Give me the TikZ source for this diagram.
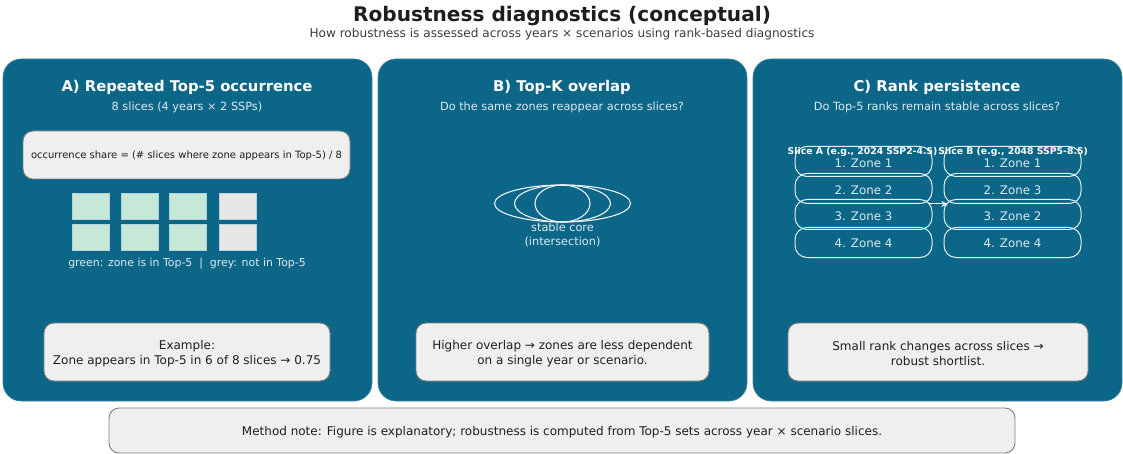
\documentclass[tikz,border=0pt]{standalone}
\usepackage{fontspec}
\setmainfont{DejaVu Sans}
\usetikzlibrary{arrows.meta,calc}

\definecolor{panel}{RGB}{12,102,136}
\definecolor{notefill}{RGB}{239,239,239}
\definecolor{noteedge}{RGB}{125,125,125}
\definecolor{ink}{RGB}{30,30,30}
\definecolor{subink}{RGB}{60,60,60}
\definecolor{paleink}{RGB}{222,234,240}
\definecolor{ingreen}{RGB}{198,232,216}
\definecolor{outgrey}{RGB}{231,231,231}

\newcommand\fsz[2]{\fontsize{#1}{#2}\selectfont}

\tikzset{
  panelbox/.style={fill=panel, draw=panel!80!white, line width=0.6pt, rounded corners=18pt,
    minimum width=369pt, minimum height=342pt, inner sep=0pt},
  notebox/.style={fill=notefill, draw=noteedge, line width=0.9pt, rounded corners=10pt,
    inner sep=0pt},
  notetext/.style={align=center, text=ink, inner sep=0pt},
  ptitle/.style={text=white, font=\fsz{14.8}{17}\bfseries},
  psub/.style={text=paleink, font=\fsz{11.3}{14}},
  cell/.style={minimum width=37pt, minimum height=26pt, inner sep=0pt, draw=white!70!panel, line width=0.4pt},
  incell/.style={cell, fill=ingreen},
  outcell/.style={cell, fill=outgrey},
  rankbox/.style={draw=white!90!panel, line width=1pt, rounded corners=12pt,
    minimum width=137pt, minimum height=30pt, inner sep=0pt},
  ranktext/.style={text=paleink, font=\fsz{11.8}{14}},
  slicelab/.style={text=white, font=\fsz{9.3}{11}\bfseries, inner sep=0pt},
  ring/.style={draw=white!92!panel, line width=1.1pt},
}

\begin{document}
\begin{tikzpicture}[x=1pt,y=-1pt]
\useasboundingbox[fill=white] (0,0) rectangle (1123,454);

% heading
\node[text=ink, font=\fsz{20.1}{24}\bfseries] (title) at (562,16) {Robustness diagnostics (conceptual)};
\node[text=subink, font=\fsz{12.1}{14}] (subtitle) at (562,34) {How robustness is assessed across years × scenarios using rank-based diagnostics};

% three panels
\node[panelbox] (pA) at (187.5,230) {};
\node[panelbox] (pB) at (562.5,230) {};
\node[panelbox] (pC) at (937.5,230) {};

% ---------- panel A ----------
\node[ptitle] (tA) at (187,87) {A) Repeated Top-5 occurrence};
\node[psub] (sA) at (187,107.5) {8 slices (4 years × 2 SSPs)};
\node[notebox, minimum width=327pt, minimum height=48pt] (formula) at (186.5,155) {};
\node[notetext, font=\fsz{10}{12}] (formulaT) at (186.5,156)
  {occurrence share = (\# slices where zone appears in Top-5) / 8};

\node[incell]  (c11) at (90.5,206) {};
\node[incell]  (c12) at (139.5,206) {};
\node[incell]  (c13) at (188,206) {};
\node[outcell] (c14) at (237.5,206) {};
\node[incell]  (c21) at (90.5,237) {};
\node[incell]  (c22) at (139.5,237) {};
\node[incell]  (c23) at (188,237) {};
\node[outcell] (c24) at (237.5,237) {};
\node[psub, font=\fsz{10.9}{13}] (legA) at (187,263.5) {green: zone is in Top-5~~|~~grey: not in Top-5};

\node[notebox, minimum width=286pt, minimum height=58pt] (exA) at (187,352) {};
\node[notetext, font=\fsz{12}{15.5}] (exAT) at (187,353.5)
  {Example:\\Zone appears in Top-5 in 6 of 8 slices → 0.75};

% ---------- panel B ----------
\node[ptitle] (tB) at (562,87) {B) Top-K overlap};
\node[psub] (sB) at (562,107.5) {Do the same zones reappear across slices?};
\coordinate (core) at (562.5,203.5);
\draw[ring] (core) ellipse [x radius=68pt, y radius=18.5pt];
\draw[ring] (core) ellipse [x radius=48pt, y radius=18.5pt];
\draw[ring] (core) ellipse [x radius=27.5pt, y radius=18.5pt];
\node[psub, align=center, font=\fsz{11.3}{14.5}] (coreLab) at (562.5,235) {stable core\\(intersection)};

\node[notebox, minimum width=293pt, minimum height=58pt] (exB) at (562.5,352) {};
\node[notetext, font=\fsz{12}{15.5}] (exBT) at (562.5,353.5)
  {Higher overlap → zones are less dependent\\on a single year or scenario.};

% ---------- panel C ----------
\node[ptitle] (tC) at (937,87) {C) Rank persistence};
\node[psub] (sC) at (937,107.5) {Do Top-5 ranks remain stable across slices?};

\node[rankbox] (a1) at (863.5,161.5) {};
\node[rankbox] (a2) at (863.5,188.5) {};
\node[rankbox] (a3) at (863.5,214.5) {};
\node[rankbox] (a4) at (863.5,242.5) {};
\node[rankbox] (b1) at (1012.5,161.5) {};
\node[rankbox] (b2) at (1012.5,188.5) {};
\node[rankbox] (b3) at (1012.5,214.5) {};
\node[rankbox] (b4) at (1012.5,242.5) {};

\node[ranktext] (a1t) at (863.5,163.5) {1. Zone 1};
\node[ranktext] (a2t) at (863.5,190.5) {2. Zone 2};
\node[ranktext] (a3t) at (863.5,216.5) {3. Zone 3};
\node[ranktext] (a4t) at (863.5,243.5) {4. Zone 4};
\node[ranktext] (b1t) at (1012.5,163.5) {1. Zone 1};
\node[ranktext] (b2t) at (1012.5,190.5) {2. Zone 3};
\node[ranktext] (b3t) at (1012.5,216.5) {3. Zone 2};
\node[ranktext] (b4t) at (1012.5,243.5) {4. Zone 4};

\node[slicelab] (sliceA) at (862.5,152) {Slice A (e.g., 2024 SSP2-4.5)};
\node[slicelab] (sliceB) at (1013,152) {Slice B (e.g., 2048 SSP5-8.5)};

\coordinate (arrS) at ($(a2.south east)+(-5pt,0)$);
\coordinate (arrE) at ($(b2.south west)+(4pt,0)$);
\draw[white, line width=1pt, -{Stealth[length=6pt,width=6pt]}] (arrS) -- (arrE);

\node[notebox, minimum width=300pt, minimum height=58pt] (exC) at (938,352) {};
\node[notetext, font=\fsz{12}{15.5}] (exCT) at (938,353.5)
  {Small rank changes across slices →\\robust shortlist.};

% ---------- footer ----------
\node[notebox, minimum width=906pt, minimum height=45pt] (note) at (562,430.5) {};
\node[notetext, font=\fsz{12}{14}] (noteT) at (562,432)
  {Method note: Figure is explanatory; robustness is computed from Top-5 sets across year × scenario slices.};
\end{tikzpicture}
\end{document}
